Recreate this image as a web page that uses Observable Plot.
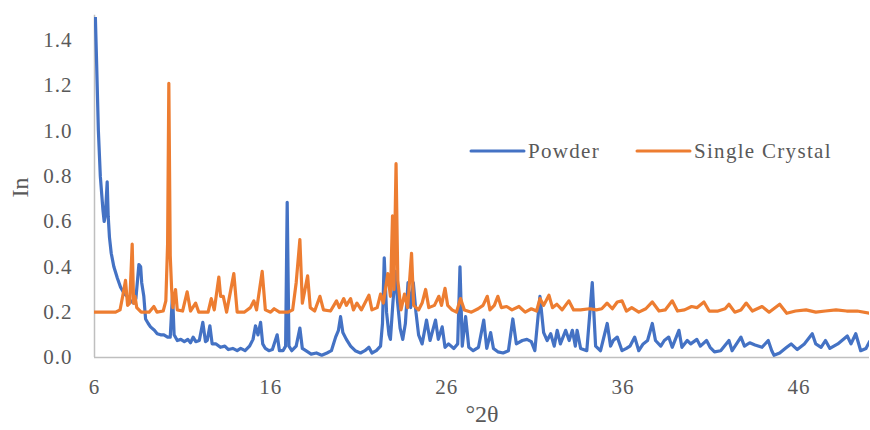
<!DOCTYPE html>
<html>
<head>
<meta charset="utf-8">
<script src="https://cdn.jsdelivr.net/npm/d3@7"></script>
<script src="https://cdn.jsdelivr.net/npm/@observablehq/plot@0.6"></script>
<style>
  body { margin: 0; background: #fff; }
  #chart { position: relative; width: 870px; height: 430px; }
  #chart svg g[aria-label="x-axis tick label"] text,
  #chart svg g[aria-label="y-axis tick label"] text { letter-spacing: 1px; }
  #chart svg g[aria-label="x-axis label"] text,
  #chart svg g[aria-label="y-axis label"] text { font-size: 24px; }
</style>
</head>
<body>
<div id="chart"></div>
<script>
// Series labels and colours
const seriesNames = ["Powder", "Single Crystal"];
const seriesColors = ["#4472C4", "#ED7D31"];

// Axis ticks
const xTicks = [6, 16, 26, 36, 46];
const yTicks = [0, 0.2, 0.4, 0.6, 0.8, 1.0, 1.2, 1.4];

// Powder pattern: [°2θ, intensity]
const powder = [
  [6.05, 1.50], [6.12, 1.30], [6.22, 1.00], [6.33, 0.80], [6.48, 0.65], [6.55, 0.60],
  [6.62, 0.63], [6.72, 0.775], [6.78, 0.62], [6.85, 0.53], [6.95, 0.46], [7.10, 0.40],
  [7.30, 0.35], [7.48, 0.31], [7.70, 0.28], [7.86, 0.27], [8.05, 0.25], [8.23, 0.24],
  [8.35, 0.26], [8.52, 0.41], [8.62, 0.40], [8.68, 0.33], [8.80, 0.27], [8.90, 0.17],
  [9.05, 0.15], [9.18, 0.135], [9.40, 0.12], [9.56, 0.105], [9.75, 0.10], [9.94, 0.10],
  [10.15, 0.09], [10.30, 0.09], [10.43, 0.28], [10.52, 0.10], [10.70, 0.075], [10.90, 0.08],
  [11.10, 0.07], [11.30, 0.08], [11.45, 0.065], [11.60, 0.09], [11.75, 0.07], [11.95, 0.075],
  [12.15, 0.155], [12.30, 0.07], [12.40, 0.075], [12.55, 0.14], [12.68, 0.06], [12.90, 0.06],
  [13.15, 0.045], [13.40, 0.05], [13.60, 0.035], [13.85, 0.04], [14.10, 0.03], [14.30, 0.04],
  [14.55, 0.03], [14.80, 0.05], [15.00, 0.08], [15.14, 0.14], [15.28, 0.10], [15.43, 0.155],
  [15.55, 0.06], [15.70, 0.04], [15.90, 0.03], [16.10, 0.035], [16.37, 0.10], [16.50, 0.03],
  [16.70, 0.03], [16.85, 0.05], [16.94, 0.685], [17.04, 0.05], [17.20, 0.03], [17.45, 0.05],
  [17.66, 0.13], [17.80, 0.04], [18.00, 0.03], [18.30, 0.015], [18.60, 0.02], [18.90, 0.01],
  [19.20, 0.02], [19.45, 0.03], [19.69, 0.09], [19.85, 0.12], [19.97, 0.18], [20.10, 0.11],
  [20.30, 0.08], [20.54, 0.05], [20.80, 0.03], [21.10, 0.02], [21.35, 0.03], [21.58, 0.045],
  [21.75, 0.02], [22.00, 0.03], [22.24, 0.05], [22.35, 0.15], [22.45, 0.44], [22.58, 0.20],
  [22.72, 0.10], [22.80, 0.08], [22.95, 0.25], [23.09, 0.38], [23.20, 0.25], [23.35, 0.13],
  [23.50, 0.08], [23.65, 0.15], [23.80, 0.33], [23.95, 0.22], [24.10, 0.33], [24.25, 0.20],
  [24.40, 0.10], [24.60, 0.06], [24.85, 0.165], [25.05, 0.075], [25.36, 0.165], [25.52, 0.08],
  [25.74, 0.135], [25.90, 0.045], [26.10, 0.06], [26.40, 0.04], [26.62, 0.06], [26.75, 0.40],
  [26.88, 0.05], [27.07, 0.18], [27.25, 0.045], [27.50, 0.03], [27.80, 0.045], [28.10, 0.165],
  [28.27, 0.04], [28.49, 0.11], [28.65, 0.04], [28.90, 0.025], [29.20, 0.02], [29.50, 0.03],
  [29.75, 0.17], [29.95, 0.06], [30.29, 0.075], [30.55, 0.08], [30.80, 0.07], [31.00, 0.03],
  [31.29, 0.27], [31.50, 0.11], [31.70, 0.075], [31.90, 0.105], [32.10, 0.05], [32.27, 0.12],
  [32.45, 0.06], [32.75, 0.12], [32.95, 0.075], [33.13, 0.12], [33.30, 0.05], [33.40, 0.12],
  [33.60, 0.04], [33.95, 0.03], [34.26, 0.33], [34.45, 0.05], [34.73, 0.03], [35.11, 0.15],
  [35.30, 0.05], [35.45, 0.075], [35.68, 0.09], [35.95, 0.03], [36.20, 0.04], [36.40, 0.05],
  [36.67, 0.09], [36.90, 0.03], [37.15, 0.06], [37.40, 0.075], [37.67, 0.15], [37.85, 0.075],
  [38.15, 0.05], [38.35, 0.075], [38.60, 0.09], [38.80, 0.045], [39.18, 0.12], [39.35, 0.045],
  [39.65, 0.075], [39.85, 0.06], [40.20, 0.08], [40.40, 0.05], [40.75, 0.075], [40.95, 0.045],
  [41.20, 0.025], [41.55, 0.03], [42.02, 0.075], [42.20, 0.03], [42.70, 0.09], [42.90, 0.05],
  [43.20, 0.065], [43.50, 0.055], [43.90, 0.045], [44.25, 0.075], [44.45, 0.03], [44.58, 0.01],
  [44.90, 0.02], [45.30, 0.045], [45.55, 0.06], [45.90, 0.035], [46.30, 0.06], [46.75, 0.105],
  [46.95, 0.06], [47.25, 0.045], [47.50, 0.075], [47.75, 0.04], [48.20, 0.06], [48.74, 0.095],
  [48.95, 0.06], [49.22, 0.105], [49.50, 0.03], [49.80, 0.04], [50.00, 0.07]
];

// Single-crystal (simulated) pattern: [°2θ, intensity]
const crystal = [
  [6.00, 0.20], [7.20, 0.20], [7.45, 0.21], [7.60, 0.27], [7.76, 0.34], [7.88, 0.23],
  [8.00, 0.24], [8.14, 0.50], [8.22, 0.24], [8.30, 0.27], [8.40, 0.22], [8.65, 0.20],
  [9.10, 0.20], [9.37, 0.225], [9.55, 0.20], [9.90, 0.205], [10.05, 0.25], [10.15, 0.50],
  [10.22, 1.21], [10.30, 0.45], [10.38, 0.30], [10.45, 0.22], [10.60, 0.30], [10.70, 0.21],
  [11.00, 0.205], [11.26, 0.29], [11.45, 0.205], [11.74, 0.24], [11.92, 0.20], [12.45, 0.20],
  [12.63, 0.26], [12.80, 0.21], [13.06, 0.355], [13.16, 0.27], [13.31, 0.27], [13.50, 0.20],
  [13.91, 0.37], [14.10, 0.20], [14.50, 0.20], [14.85, 0.22], [15.05, 0.25], [15.20, 0.21],
  [15.52, 0.38], [15.70, 0.21], [16.00, 0.20], [16.20, 0.215], [16.50, 0.20], [17.00, 0.20],
  [17.25, 0.21], [17.45, 0.33], [17.66, 0.52], [17.80, 0.24], [18.10, 0.36], [18.25, 0.22],
  [18.50, 0.205], [18.80, 0.27], [19.00, 0.21], [19.40, 0.205], [19.74, 0.25], [19.90, 0.22],
  [20.15, 0.26], [20.30, 0.23], [20.54, 0.26], [20.70, 0.21], [20.90, 0.24], [21.15, 0.21],
  [21.58, 0.275], [21.75, 0.21], [22.05, 0.22], [22.24, 0.28], [22.40, 0.24], [22.65, 0.37],
  [22.80, 0.27], [22.92, 0.625], [23.00, 0.30], [23.12, 0.855], [23.22, 0.34], [23.40, 0.21],
  [23.60, 0.28], [23.78, 0.22], [24.00, 0.46], [24.12, 0.23], [24.40, 0.21], [24.60, 0.24],
  [24.80, 0.30], [24.98, 0.22], [25.30, 0.23], [25.55, 0.27], [25.70, 0.23], [25.90, 0.305],
  [26.05, 0.23], [26.30, 0.21], [26.55, 0.20], [26.78, 0.26], [27.00, 0.21], [27.40, 0.20],
  [27.78, 0.215], [28.06, 0.23], [28.30, 0.27], [28.45, 0.21], [28.70, 0.23], [28.90, 0.27],
  [29.10, 0.22], [29.40, 0.225], [29.70, 0.21], [30.10, 0.225], [30.45, 0.20], [30.80, 0.215],
  [31.10, 0.205], [31.29, 0.26], [31.50, 0.23], [31.80, 0.275], [32.00, 0.22], [32.25, 0.235],
  [32.55, 0.21], [32.93, 0.25], [33.20, 0.21], [33.60, 0.21], [34.10, 0.215], [34.50, 0.21],
  [34.80, 0.215], [35.10, 0.24], [35.40, 0.215], [35.68, 0.245], [35.95, 0.25], [36.20, 0.205],
  [36.50, 0.22], [36.90, 0.20], [37.30, 0.215], [37.67, 0.245], [38.05, 0.205], [38.40, 0.21],
  [38.80, 0.25], [39.10, 0.205], [39.50, 0.21], [39.90, 0.225], [40.20, 0.22], [40.60, 0.245],
  [40.90, 0.205], [41.40, 0.205], [41.80, 0.215], [42.02, 0.235], [42.35, 0.20], [42.70, 0.21],
  [43.00, 0.24], [43.35, 0.205], [43.90, 0.225], [44.30, 0.20], [44.90, 0.235], [45.30, 0.195],
  [45.80, 0.205], [46.40, 0.21], [46.95, 0.20], [47.50, 0.205], [48.10, 0.21], [48.70, 0.205],
  [49.30, 0.205], [50.00, 0.195]
];

const rows = [
  ...powder.map(([t, v]) => ({ t, v, s: seriesNames[0] })),
  ...crystal.map(([t, v]) => ({ t, v, s: seriesNames[1] }))
];

const font = "'Liberation Serif', 'Times New Roman', serif";
const axisGray = "#bfbfbf";

const chart = Plot.plot({
  width: 870,
  height: 430,
  marginLeft: 94,
  marginRight: 1,
  marginTop: 17,
  marginBottom: 73,
  style: { fontFamily: font, fontSize: "21px", color: "#595959", background: "#fff" },
  x: { domain: [6, 50] },
  y: { domain: [0, 1.5] },
  color: { domain: seriesNames, range: seriesColors },
  marks: [
    Plot.ruleX([6], { y1: 0, y2: 1.51, stroke: axisGray, strokeWidth: 1.5 }),
    Plot.ruleY([0], { stroke: axisGray, strokeWidth: 1.5 }),
    Plot.line(rows, {
      x: "t", y: "v", z: "s", stroke: "s",
      strokeWidth: 3.2, strokeLinejoin: "round", strokeLinecap: "round", clip: true
    }),
    Plot.axisX({
      ticks: xTicks, tickSize: 0, tickPadding: 22, tickFormat: d => String(d),
      label: "°2θ", labelAnchor: "center", labelArrow: "none", labelOffset: 64
    }),
    Plot.axisY({
      ticks: yTicks, tickSize: 0, tickPadding: 22, tickFormat: d3.format(".1f"),
      label: "In", labelAnchor: "center", labelArrow: "none", labelOffset: 84
    })
  ]
});

document.getElementById("chart").appendChild(chart);

// In-plot legend: a short line sample followed by the series name
const svg = d3.select(chart);
const legend = svg.append("g")
  .attr("font-family", font)
  .attr("font-size", 21)
  .attr("letter-spacing", "1.3px")
  .attr("text-anchor", "start")
  .attr("fill", "#595959");
const legendItems = [{ x: 471 }, { x: 637 }];
legendItems.forEach((item, i) => {
  const g = legend.append("g").attr("transform", `translate(${item.x},151)`);
  g.append("line").attr("x1", 0).attr("x2", 53).attr("y1", 0).attr("y2", 0)
    .attr("stroke", seriesColors[i]).attr("stroke-width", 3).attr("stroke-linecap", "round");
  g.append("text").attr("x", 57).attr("y", 0).attr("dy", "0.35em").text(seriesNames[i]);
});
</script>
</body>
</html>
